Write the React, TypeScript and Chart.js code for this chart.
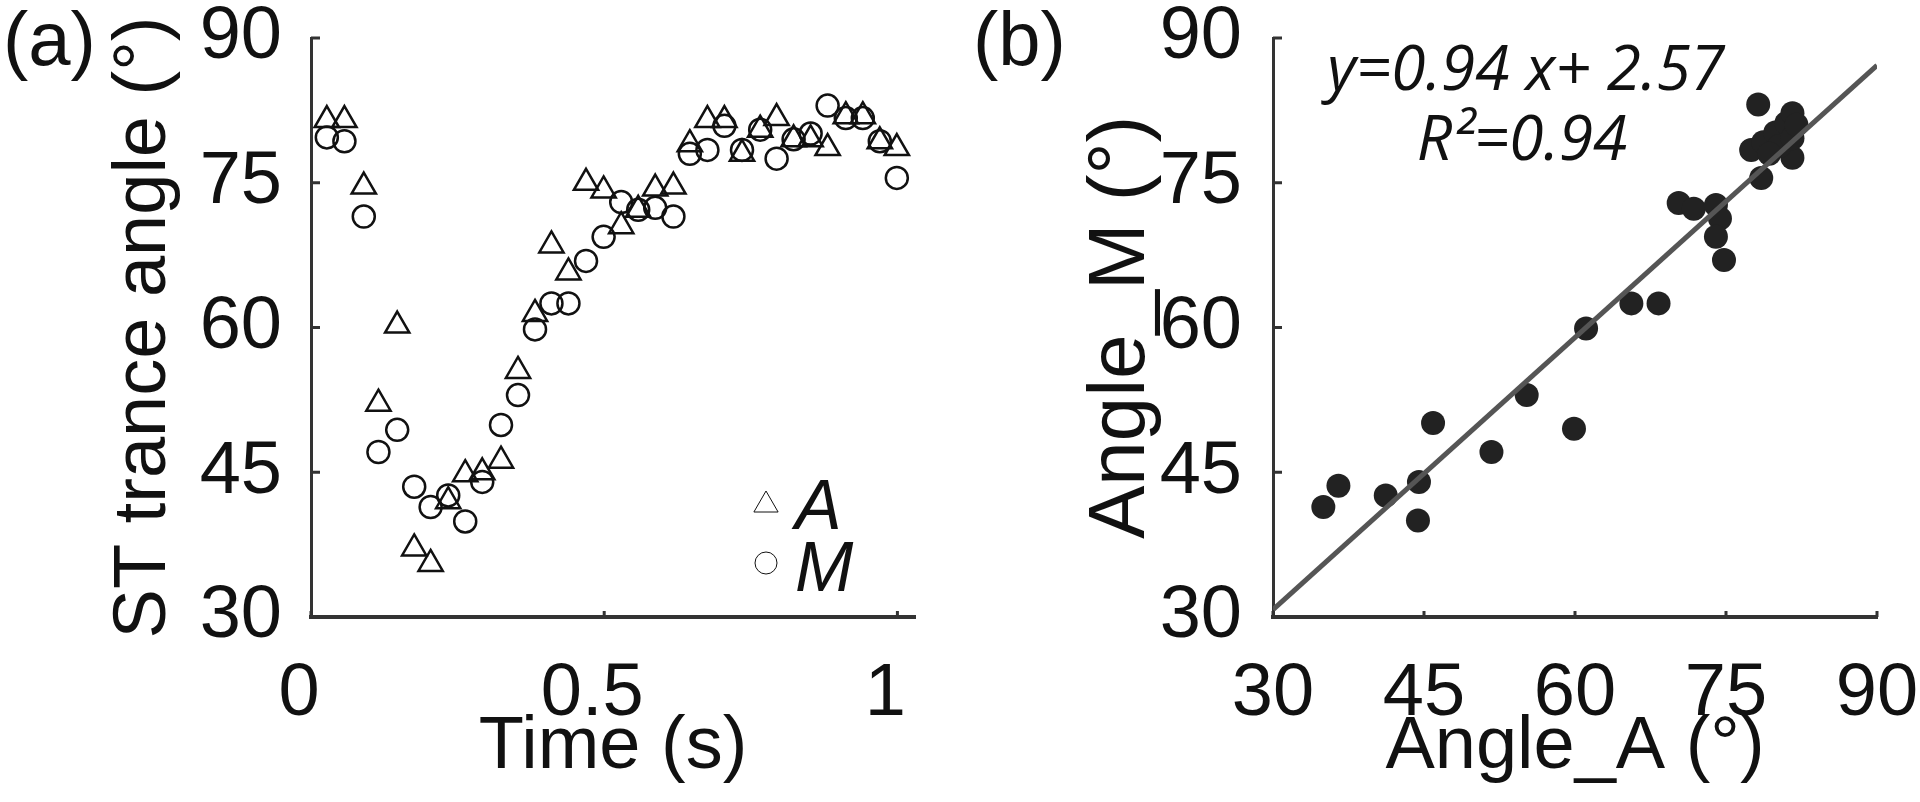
import { useEffect, useRef } from 'react';
import { Chart, registerables } from 'chart.js';
import { drawPoint } from 'chart.js/helpers';

Chart.register(...registerables);

// ---------- Panel (a): angle vs time ----------
const timeS = [
  0.027, 0.057, 0.09, 0.115, 0.147, 0.176, 0.204, 0.234, 0.263, 0.292, 0.324, 0.353,
  0.382, 0.41, 0.439, 0.469, 0.499, 0.529, 0.558, 0.587, 0.618, 0.646, 0.676, 0.705,
  0.735, 0.766, 0.794, 0.823, 0.852, 0.881, 0.912, 0.941, 0.97, 0.999,
];
const angleA = [
  81.5, 81.5, 74.6, 52.1, 60.2, 37.1, 35.5, 42.0, 44.8, 45.0, 46.2, 55.5,
  61.4, 68.5, 65.7, 75.0, 74.2, 70.5, 72.2, 74.4, 74.6, 79.0, 81.5, 81.5,
  78.0, 80.5, 81.7, 79.5, 79.5, 78.6, 81.9, 81.9, 79.3, 78.6,
];
const angleM = [
  79.7, 79.3, 71.5, 47.1, 49.4, 43.5, 41.4, 42.6, 39.9, 44.0, 49.9, 53.0,
  59.8, 62.5, 62.5, 66.9, 69.4, 73.0, 72.2, 72.4, 71.5, 78.0, 78.4, 80.9,
  78.4, 80.5, 77.5, 79.5, 80.1, 83.0, 81.7, 81.7, 79.3, 75.5,
];
const timeTicks = [0, 0.5, 1];
const angleTicks = [30, 45, 60, 75, 90];
const seriesNames = ['A', 'M'];

// ---------- Panel (b): Angle_M vs Angle_A ----------
const scatterAngleA = [
  35.0, 36.5, 41.2, 44.5, 44.4, 45.9, 51.7, 55.2, 59.9, 61.1, 65.6, 68.3, 70.3, 71.8, 74.0,
  74.4, 74.0, 74.8, 78.2, 78.5, 77.5, 78.7, 79.9, 81.0, 81.6, 81.6, 80.3, 79.3, 81.6, 82.0,
];
const scatterAngleM = [
  41.4, 43.6, 42.6, 44.0, 40.0, 50.1, 47.1, 53.0, 49.5, 59.9, 62.5, 62.5, 72.9, 72.3, 72.7,
  71.3, 69.4, 67.0, 83.1, 75.5, 78.4, 79.2, 80.2, 81.2, 82.2, 77.6, 78.8, 78.0, 79.6, 81.0,
];
const fitSlope = 0.94;
const fitIntercept = 2.57;
const fitXRange = [30, 90];
const equationText = 'y=0.94 x+ 2.57';
const r2Text = 'R\u00B2=0.94';

// ---------- styling ----------
const W = 960;
const H = 802;
const FONT = "'Liberation Sans', Arial, Helvetica, sans-serif";
const EQ_FONT = "'Open Sans', 'DejaVu Sans', sans-serif";
const INK = '#111111';
const AXIS = '#333333';
const TICK_SIZE = 74;

const inwardTicks = {
  id: 'inwardTicks',
  afterDraw(chart: any) {
    const { ctx, chartArea } = chart;
    const xs = chart.scales.x;
    const ys = chart.scales.y;
    ctx.save();
    ctx.strokeStyle = AXIS;
    ctx.lineWidth = 3;
    ctx.beginPath();
    ys.ticks.forEach((t: any) => {
      const py = ys.getPixelForValue(t.value);
      ctx.moveTo(chartArea.left, py);
      ctx.lineTo(chartArea.left + 9, py);
    });
    xs.ticks.forEach((t: any) => {
      const px = xs.getPixelForValue(t.value);
      ctx.moveTo(px, chartArea.bottom);
      ctx.lineTo(px, chartArea.bottom - 6);
    });
    ctx.stroke();
    ctx.restore();
  },
};

function makeScales(
  xMin: number, xMax: number, xTicks: number[], xTitle: string,
  yTitle: string, yAxisWidth: number, yTitleOffset: number, yTickPad: number,
  yTitleSize: number, xLabelOffset: number,
) {
  return {
    x: {
      type: 'linear',
      min: xMin,
      max: xMax,
      afterBuildTicks: (s: any) => { s.ticks = xTicks.map((v) => ({ value: v })); },
      afterFit: (s: any) => { s.height = H - 617; s.paddingLeft = 0; s.paddingRight = 0; },
      grid: { display: false },
      border: { display: true, color: AXIS, width: 4 },
      ticks: {
        color: INK, font: { family: FONT, size: TICK_SIZE }, padding: 25,
        maxRotation: 0, autoSkip: false, labelOffset: xLabelOffset,
        callback: (v: any) => String(v),
      },
      title: {
        display: true, text: xTitle, color: INK,
        font: { family: FONT, size: TICK_SIZE }, padding: { top: 0, bottom: 10 },
      },
    },
    y: {
      type: 'linear',
      min: 30,
      max: 90,
      afterBuildTicks: (s: any) => { s.ticks = angleTicks.map((v) => ({ value: v })); },
      afterFit: (s: any) => { s.width = yAxisWidth; s.paddingTop = 0; s.paddingBottom = 0; },
      grid: { display: false },
      border: { display: true, color: AXIS, width: 3 },
      ticks: {
        color: INK, font: { family: FONT, size: TICK_SIZE }, padding: yTickPad,
        autoSkip: false, callback: (v: any) => String(v),
      },
      title: {
        display: true, text: yTitle, color: INK,
        font: { family: FONT, size: yTitleSize }, padding: { top: yTitleOffset, bottom: 0 },
      },
    },
  };
}

function panelAConfig(): any {
  const legendPlugin = {
    id: 'panelAText',
    afterDraw(chart: any) {
      const { ctx } = chart;
      ctx.save();
      ctx.fillStyle = INK;
      ctx.font = `76px ${FONT}`;
      ctx.textBaseline = 'alphabetic';
      ctx.fillText('(a)', 3, 65);
      // legend
      ctx.strokeStyle = INK;
      ctx.fillStyle = 'rgba(0,0,0,0)';
      drawPoint(ctx, { pointStyle: 'triangle', radius: 14, rotation: 0, borderWidth: 2.5 } as any, 766, 505);
      drawPoint(ctx, { pointStyle: 'circle', radius: 11, rotation: 0, borderWidth: 2.5 } as any, 766, 563);
      ctx.fillStyle = INK;
      ctx.font = `italic 70px ${FONT}`;
      ctx.fillText(seriesNames[0], 795, 529);
      ctx.fillText(seriesNames[1], 795, 591);
      ctx.restore();
    },
  };
  return {
    type: 'scatter',
    data: {
      datasets: [
        {
          label: seriesNames[0],
          data: timeS.map((t, i) => ({ x: t, y: angleA[i] })),
          pointStyle: 'triangle', pointRadius: 14,
          pointBorderColor: INK, pointBorderWidth: 2.5, pointBackgroundColor: 'rgba(0,0,0,0)',
        },
        {
          label: seriesNames[1],
          data: timeS.map((t, i) => ({ x: t, y: angleM[i] })),
          pointStyle: 'circle', pointRadius: 11,
          pointBorderColor: INK, pointBorderWidth: 2.5, pointBackgroundColor: 'rgba(0,0,0,0)',
        },
      ],
    },
    options: {
      responsive: false,
      animation: false,
      events: [],
      layout: { padding: { top: 38, right: 45, left: 0, bottom: 0 }, autoPadding: false },
      plugins: { legend: { display: false }, tooltip: { enabled: false } },
      scales: makeScales(0, 1.03, timeTicks, 'Time (s)', 'ST trance angle (\u00B0)', 311, 100, 21, TICK_SIZE, -12),
    },
    plugins: [inwardTicks, legendPlugin],
  };
}

function panelBConfig(): any {
  const textPlugin = {
    id: 'panelBText',
    afterDraw(chart: any) {
      const { ctx } = chart;
      ctx.save();
      ctx.fillStyle = INK;
      ctx.font = `76px ${FONT}`;
      ctx.textBaseline = 'alphabetic';
      ctx.fillText('(b)', 13, 65);
      ctx.textAlign = 'center';
      ctx.font = `italic 62px ${EQ_FONT}`;
      ctx.fillText(equationText, 566, 90);
      ctx.fillText(r2Text, 562, 160);
      ctx.restore();
    },
  };
  return {
    type: 'scatter',
    data: {
      datasets: [
        {
          label: 'fit',
          data: fitXRange.map((x) => ({ x, y: fitSlope * x + fitIntercept })),
          showLine: true, pointRadius: 0, borderColor: '#555555', borderWidth: 5,
        },
        {
          label: 'points',
          data: scatterAngleA.map((a, i) => ({ x: a, y: scatterAngleM[i] })),
          pointStyle: 'circle', pointRadius: 12, pointBorderWidth: 0,
          pointBackgroundColor: '#222222', pointBorderColor: '#222222',
        },
      ],
    },
    options: {
      responsive: false,
      animation: false,
      events: [],
      layout: { padding: { top: 38, right: 43, left: 0, bottom: 0 }, autoPadding: false },
      plugins: { legend: { display: false }, tooltip: { enabled: false } },
      scales: makeScales(30, 90, angleTicks, 'Angle_A (\u00B0)', 'Angle_M (\u00B0)', 313, 114, 23, 80, 0),
    },
    plugins: [inwardTicks, textPlugin],
  };
}

function Panel({ makeConfig, left }: { makeConfig: () => any; left: number }) {
  const ref = useRef<HTMLCanvasElement>(null);
  useEffect(() => {
    const chart = new Chart(ref.current as HTMLCanvasElement, makeConfig());
    return () => chart.destroy();
  }, [makeConfig]);
  return (
    <canvas
      ref={ref}
      width={W}
      height={H}
      style={{ position: 'absolute', left, top: 0, width: W, height: H }}
    />
  );
}

export default function App() {
  return (
    <div
      style={{
        position: 'absolute', left: 0, top: 0, width: 1920, height: 802,
        overflow: 'hidden', background: '#ffffff',
      }}
    >
      <Panel makeConfig={panelAConfig} left={0} />
      <Panel makeConfig={panelBConfig} left={960} />
    </div>
  );
}
